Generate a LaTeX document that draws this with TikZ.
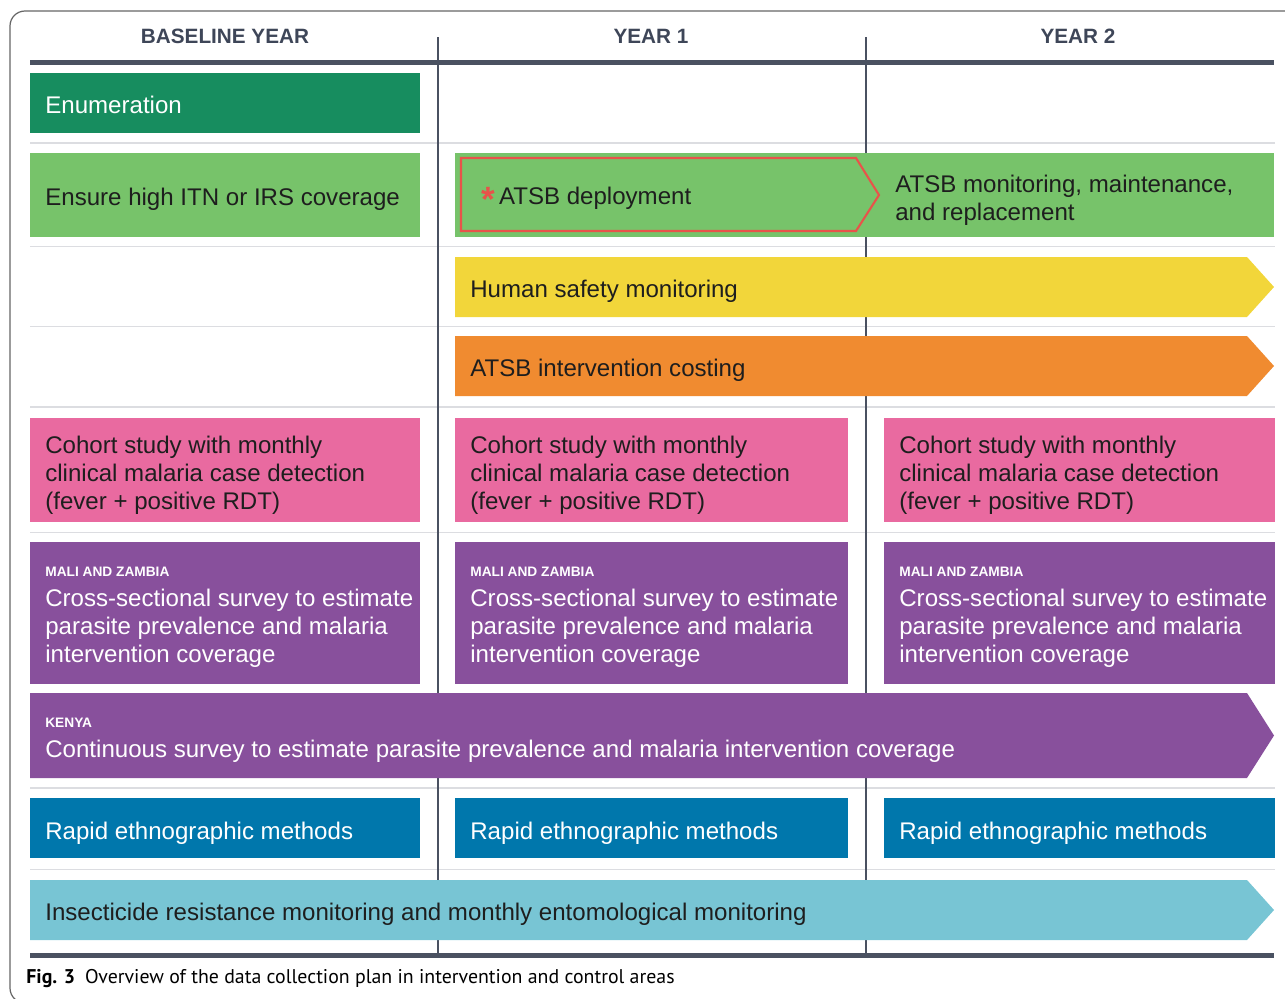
\documentclass[tikz,border=0pt]{standalone}
\usepackage{fontspec}
\setmainfont{Liberation Sans}
\newfontfamily\capfont{PT Sans}

\definecolor{enumgreen}{HTML}{178D5F}
\definecolor{itngreen}{HTML}{77C36A}
\definecolor{safeyellow}{HTML}{F2D63A}
\definecolor{costorange}{HTML}{F08B30}
\definecolor{cohortpink}{HTML}{E96AA0}
\definecolor{surveypurple}{HTML}{88509C}
\definecolor{ethnoblue}{HTML}{0077AC}
\definecolor{entocyan}{HTML}{78C5D4}
\definecolor{atsbred}{HTML}{E8534A}
\definecolor{headgray}{HTML}{3E4658}
\definecolor{rulegray}{HTML}{4A5161}
\definecolor{sepgray}{HTML}{DCDDE1}
\definecolor{inktext}{HTML}{1E1E1E}

\tikzset{
  bar/.style={font=\fontsize{13.7}{15.9}\selectfont, anchor=west, align=left, inner sep=0pt},
  darkbar/.style={bar, text=white},
  lightbar/.style={bar, text=inktext},
  tag/.style={font=\fontsize{7.8}{9}\selectfont\bfseries, anchor=west, inner sep=0pt, text=white},
  yearhead/.style={font=\fontsize{11.8}{14}\selectfont\bfseries, text=headgray},
}

\begin{document}
\begin{tikzpicture}[x=0.02cm, y=-0.02cm]
        \useasboundingbox (0,0) rectangle (1285,998);

        % outer frame
        \draw[line width=0.7pt, black!60, rounded corners=0.3cm] (10,11) rectangle (1310,1003);

        % light row separators and year dividers
        \foreach \y in {143,246.5,326.5,407,532.5,788,869.5}
        \draw[line width=1.1pt, sepgray] (30,\y) -- (1275,\y);

        \foreach \x in {438,866}
        \draw[line width=1.1pt, rulegray] (\x,37) -- (\x,953);

        \draw[line width=2.3pt, rulegray] (30,62.5) -- (1274,62.5);
        \draw[line width=2.3pt, rulegray] (30,955.5) -- (1274,955.5);

        \node[yearhead] (base) at (225,36) {BASELINE YEAR};
        \node[yearhead] (yr1) at (651,36) {YEAR 1};
        \node[yearhead] (yr2) at (1078,36) {YEAR 2};

        % enumeration and ITN/IRS
        \fill[enumgreen] (30,73) rectangle (420,133);
        \node[darkbar] (enum) at (45,105) {Enumeration};

        \fill[itngreen] (30,153) rectangle (420,237);
        \node[lightbar] (itn) at (45,199) {Ensure high ITN or IRS coverage};

        % ATSB deployment band
        \fill[itngreen] (455,153) rectangle (1274,237);
        \draw[line width=1.2pt, atsbred] (461,158) -- (856,158) -- (879,195) -- (856,231) -- (461,231) -- cycle;
        \node[lightbar] (deploy) at (481,199) {{\color{atsbred}\raisebox{-0.55ex}{\fontsize{20}{20}\selectfont\bfseries *}}\,ATSB deployment};
        \node[lightbar] (atsbmon) at (895,200) {ATSB monitoring, maintenance,\\and replacement};

        % arrows running over year 1 and year 2
        \fill[safeyellow] (455,257) -- (1247,257) -- (1274,287) -- (1247,317) -- (455,317) -- cycle;
        \node[lightbar] (safety) at (470,291) {Human safety monitoring};

        \fill[costorange] (455,336) -- (1247,336) -- (1274,366) -- (1247,396) -- (455,396) -- cycle;
        \node[lightbar] (costing) at (470,370) {ATSB intervention costing};

        % one box per year
        \foreach \xa/\xb/\n in {30/420/0, 455/848/1, 884/1275/2} {
          \fill[cohortpink] (\xa,418) rectangle (\xb,522);
          \node[lightbar] (cohort\n) at (\xa+15,475) {Cohort study with monthly\\clinical malaria case detection\\(fever + positive RDT)};

          \fill[surveypurple] (\xa,542) rectangle (\xb,684);
          \node[tag] (mz\n) at (\xa+15,572) {MALI AND ZAMBIA};
          \node[darkbar] (cross\n) at (\xa+15,628) {Cross-sectional survey to estimate\\parasite prevalence and malaria\\intervention coverage};

          \fill[ethnoblue] (\xa,798) rectangle (\xb,858);
          \node[darkbar] (rem\n) at (\xa+15,833) {Rapid ethnographic methods};
        }

        % whole-period arrows
        \fill[surveypurple] (30,693) -- (1247,693) -- (1274,735.5) -- (1247,778) -- (30,778) -- cycle;
        \node[tag] (ke) at (45,723) {KENYA};
        \node[darkbar] (kenya) at (45,751) {Continuous survey to estimate parasite prevalence and malaria intervention coverage};

        \fill[entocyan] (30,880) -- (1247,880) -- (1274,910) -- (1247,940) -- (30,940) -- cycle;
        \node[lightbar] (entomo) at (45,914) {Insecticide resistance monitoring and monthly entomological monitoring};

        \node[anchor=west, inner sep=0pt, font=\capfont\fontsize{11.3}{13}\selectfont] (caption) at (26,979)
          {\textbf{Fig. 3}\enspace Overview of the data collection plan in intervention and control areas};

    \end{tikzpicture}
\end{document}
